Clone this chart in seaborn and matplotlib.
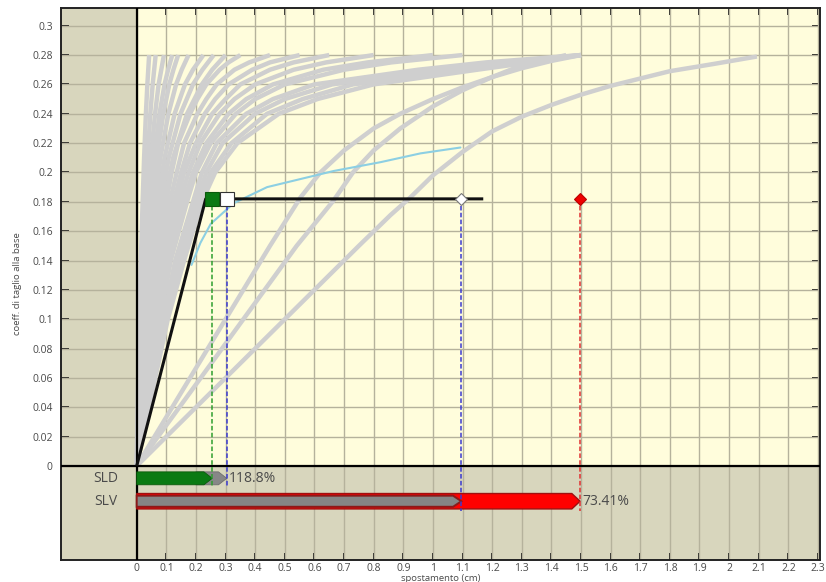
import numpy as np
import pandas as pd
import matplotlib
matplotlib.use("Agg")
import matplotlib.pyplot as plt
from matplotlib.patches import Polygon, Rectangle
import seaborn as sns

# ---------------- data ----------------
# steep capacity curves: x displacement at these base-shear levels
steep_levels = [0, 0.05, 0.1, 0.14, 0.18, 0.21, 0.24, 0.26, 0.27, 0.28]
steep_curves_x = [
    [0, 0.004, 0.009, 0.014, 0.02, 0.025, 0.031, 0.036, 0.039, 0.042],
    [0, 0.006, 0.013, 0.02, 0.029, 0.037, 0.046, 0.054, 0.059, 0.064],
    [0, 0.008, 0.017, 0.026, 0.038, 0.048, 0.062, 0.074, 0.083, 0.092],
    [0, 0.01, 0.021, 0.032, 0.046, 0.059, 0.077, 0.094, 0.106, 0.12],
    [0, 0.011, 0.024, 0.037, 0.053, 0.068, 0.09, 0.11, 0.124, 0.14],
    [0, 0.013, 0.028, 0.043, 0.062, 0.08, 0.107, 0.133, 0.152, 0.175],
    [0, 0.015, 0.032, 0.05, 0.072, 0.094, 0.128, 0.163, 0.19, 0.225],
    [0, 0.017, 0.036, 0.056, 0.082, 0.108, 0.148, 0.19, 0.222, 0.26],
    [0, 0.019, 0.04, 0.063, 0.092, 0.123, 0.17, 0.22, 0.255, 0.3],
]
# bending capacity curves: x displacement at these base-shear levels
bend_levels = [0, 0.05, 0.1, 0.14, 0.18, 0.2, 0.22, 0.24, 0.25, 0.26, 0.27, 0.275, 0.28]
bend_curves_x = [
    [0, 0.022, 0.046, 0.07, 0.1, 0.118, 0.14, 0.18, 0.205, 0.235, 0.28, 0.31, 0.35],
    [0, 0.025, 0.052, 0.078, 0.112, 0.135, 0.16, 0.205, 0.235, 0.27, 0.33, 0.38, 0.45],
    [0, 0.028, 0.058, 0.086, 0.125, 0.15, 0.18, 0.23, 0.265, 0.31, 0.39, 0.45, 0.55],
    [0, 0.03, 0.062, 0.093, 0.135, 0.16, 0.2, 0.255, 0.3, 0.35, 0.45, 0.53, 0.65],
    [0, 0.033, 0.068, 0.1, 0.146, 0.175, 0.215, 0.28, 0.33, 0.4, 0.53, 0.64, 0.8],
    [0, 0.036, 0.074, 0.108, 0.158, 0.19, 0.235, 0.31, 0.37, 0.46, 0.63, 0.78, 1.0],
    [0, 0.04, 0.08, 0.115, 0.17, 0.2, 0.25, 0.335, 0.4, 0.5, 0.7, 0.86, 1.1],
    [0, 0.045, 0.09, 0.13, 0.19, 0.22, 0.27, 0.37, 0.46, 0.6, 0.95, 1.18, 1.5],
    [0, 0.048, 0.095, 0.14, 0.2, 0.235, 0.29, 0.4, 0.5, 0.66, 1.02, 1.24, 1.5],
    [0, 0.05, 0.1, 0.15, 0.21, 0.25, 0.32, 0.44, 0.56, 0.73, 1.1, 1.3, 1.5],
    [0, 0.052, 0.105, 0.16, 0.22, 0.265, 0.34, 0.48, 0.61, 0.8, 1.15, 1.33, 1.5],
]
soft_curve1_x = [0, 0.3, 0.45, 0.553, 0.62, 0.7, 0.8, 0.89, 1.0, 1.1, 1.2, 1.3, 1.4, 1.5]
soft_curve1_y = [0, 0.1, 0.15, 0.183, 0.2, 0.215, 0.23, 0.24, 0.25, 0.258, 0.265, 0.271, 0.276, 0.28]
soft_curve2_x = [0, 0.36, 0.54, 0.665, 0.73, 0.8, 0.89, 1.0, 1.1, 1.2, 1.3, 1.45]
soft_curve2_y = [0, 0.1, 0.15, 0.181, 0.2, 0.215, 0.23, 0.245, 0.256, 0.265, 0.273, 0.28]
soft_curve3_x = [0, 0.5, 0.75, 0.857, 0.924, 1.0, 1.1, 1.2, 1.3, 1.4, 1.5, 1.6, 1.7,
                 1.8, 1.95, 2.094]
soft_curve3_y = [0, 0.1, 0.15, 0.171, 0.183, 0.198, 0.214, 0.228, 0.238, 0.246, 0.253,
                 0.259, 0.264, 0.269, 0.274, 0.279]

blue_x = [0.185, 0.215, 0.25, 0.327, 0.44, 0.665, 0.823, 0.958, 1.093]
blue_y = [0.137, 0.152, 0.165, 0.179, 0.190, 0.201, 0.207, 0.213, 0.217]

bilinear_x = [0, 0.233, 1.17]
bilinear_y = [0, 0.182, 0.182]
level_y = 0.182
sld_capacity = 0.255
sld_demand = 0.304
slv_demand = 1.096
slv_capacity = 1.497
sld_label, slv_label = "SLD", "SLV"
sld_pct, slv_pct = "118.8%", "73.41%"

x_ticks = [round(0.1 * i, 1) for i in range(24)]
x_labels = ["0", "0.1", "0.2", "0.3", "0.4", "0.5", "0.6", "0.7", "0.8", "0.9", "1",
            "1.1", "1.2", "1.3", "1.4", "1.5", "1.6", "1.7", "1.8", "1.9", "2",
            "2.1", "2.2", "2.3"]
y_ticks = [round(0.02 * i, 2) for i in range(16)]
y_labels = ["0", "0.02", "0.04", "0.06", "0.08", "0.1", "0.12", "0.14", "0.16",
            "0.18", "0.2", "0.22", "0.24", "0.26", "0.28", "0.3"]

# ---------------- style ----------------
sns.set_theme(style="white")
plt.rcParams['font.family'] = ['Open Sans', 'DejaVu Sans']

TAN = "#D8D6BD"
YEL = "#FFFDDC"
GRID = "#B5B29C"
GREY = "#CFCFCF"
TXT = "#4A4A4A"

fig = plt.figure(figsize=(8.26, 5.82), dpi=100)
L, R, T, B = 61, 820, 8, 560
ax = fig.add_axes([L / 826, 1 - B / 582, (R - L) / 826, (B - T) / 582])

px_per_x = 296.2
px_per_y = 1467.7
x0px, y0px = 136.7, 466.0
ax.set_xlim((L - x0px) / px_per_x, (R - x0px) / px_per_x)
ax.set_ylim(-(B - y0px) / px_per_y, (y0px - T) / px_per_y)

ax.set_facecolor(TAN)
ax.add_patch(Rectangle((0, 0), 3, 1, facecolor=YEL, edgecolor="none", zorder=0))

# grid
for xv in x_ticks:
    ax.axvline(xv, color=GRID, lw=1.0, zorder=0.6)
for yv in y_ticks:
    ax.axhline(yv, color=GRID, lw=1.0, zorder=0.6)

# curves via seaborn
rows = []
cid = 0
for xs in steep_curves_x:
    for xv, yv in zip(xs, steep_levels):
        rows.append((cid, xv, yv))
    cid += 1
for xs in bend_curves_x:
    for xv, yv in zip(xs, bend_levels):
        rows.append((cid, xv, yv))
    cid += 1
for xs, ys in [(soft_curve1_x, soft_curve1_y), (soft_curve2_x, soft_curve2_y),
               (soft_curve3_x, soft_curve3_y)]:
    for xv, yv in zip(xs, ys):
        rows.append((cid, xv, yv))
    cid += 1
df = pd.DataFrame(rows, columns=["curve", "x", "y"])
sns.lineplot(data=df, x="x", y="y", units="curve", estimator=None, sort=False,
             color=GREY, linewidth=3.2, ax=ax, legend=False, zorder=2,
             solid_joinstyle="round", solid_capstyle="butt")

ax.plot(blue_x, blue_y, color="#8CCFE3", lw=1.5, zorder=3)

# axes through origin
ax.axvline(0, color="black", lw=1.6, zorder=3.2)
ax.axhline(0, color="black", lw=1.6, zorder=3.2)

# dashed verticals
sld_bot = -0.0136
slv_bot = -0.031
dash = (0, (3, 1.5))
ax.plot([sld_capacity, sld_capacity], [level_y, sld_bot], color="#2E9E2E", lw=1.1,
        ls=dash, zorder=5)
ax.plot([sld_demand, sld_demand], [level_y, sld_bot], color="#3A3ACF", lw=1.1,
        ls=dash, zorder=5)
ax.plot([slv_demand, slv_demand], [level_y, slv_bot], color="#3A3ACF", lw=1.1,
        ls=dash, zorder=5)
ax.plot([slv_capacity, slv_capacity], [level_y, slv_bot], color="#E03030", lw=1.1,
        ls=dash, zorder=5)

# bilinear
ax.plot(bilinear_x, bilinear_y, color="#111111", lw=2.2, zorder=4,
        solid_capstyle="butt")

ax.plot([sld_capacity], [level_y], marker="s", ms=10, mfc="#0A7A12", mec="#0A5A0A",
        mew=0.8, zorder=6)
ax.plot([sld_demand], [level_y], marker="s", ms=10, mfc="white", mec="#333333",
        mew=0.8, zorder=6)
ax.plot([slv_demand], [level_y], marker="D", ms=6.5, mfc="white", mec="#777777",
        mew=0.8, zorder=6)
ax.plot([slv_capacity], [level_y], marker="D", ms=6.5, mfc="#EE0000", mec="#BB0000",
        mew=0.8, zorder=6)


def arrow(x0, x1, yc, h, tip):
    return [(x0, yc - h / 2), (x1 - tip, yc - h / 2), (x1, yc),
            (x1 - tip, yc + h / 2), (x0, yc + h / 2)]


tip = 0.028
sld_y, sld_h = -0.0084, 0.0088
slv_y, slv_h = -0.0240, 0.0105
ax.add_patch(Polygon(arrow(0.2, sld_demand, sld_y, sld_h, tip), closed=True,
                     facecolor="#878787", edgecolor="#6E6E6E", lw=0.6, zorder=4.5))
ax.add_patch(Polygon(arrow(0, sld_capacity, sld_y, sld_h, tip), closed=True,
                     facecolor="#0A7A12", edgecolor="#0A5A0A", lw=0.6, zorder=4.6))
ax.add_patch(Polygon(arrow(0, slv_capacity, slv_y, slv_h, tip), closed=True,
                     facecolor="#FF0000", edgecolor="#A01010", lw=1.0, zorder=4.5))
ax.add_patch(Polygon(arrow(0, slv_demand, slv_y, slv_h * 0.72, tip), closed=True,
                     facecolor="#858585", edgecolor="#8B1A1A", lw=1.4, zorder=4.6))

ax.text(sld_demand + 0.008, sld_y, sld_pct, ha="left", va="center", fontsize=10,
        color=TXT, zorder=7)
ax.text(slv_capacity + 0.008, slv_y, slv_pct, ha="left", va="center", fontsize=10,
        color=TXT, zorder=7)
ax.text(-0.105, sld_y, sld_label, ha="center", va="center", fontsize=10, color=TXT)
ax.text(-0.105, slv_y, slv_label, ha="center", va="center", fontsize=10, color=TXT)

# ticks
ax.set_xticks(x_ticks)
ax.set_xticklabels(x_labels)
ax.set_yticks(y_ticks)
ax.set_yticklabels(y_labels)
ax.tick_params(axis="x", direction="in", length=5, width=1.3, colors="#111111",
               labelcolor=TXT, labelsize=7.5, pad=2, top=True, bottom=True)
ax.tick_params(axis="y", direction="in", length=6, width=1.3, colors="#111111",
               labelcolor=TXT, labelsize=7.5, pad=6, left=True, right=True)

for s in ax.spines.values():
    s.set_color("#222222")
    s.set_linewidth(1.4)
    s.set_visible(True)

ax.set_xlabel("spostamento (cm)", fontsize=6.8, color=TXT)
ax.xaxis.set_label_coords(0.5, -0.025)
ax.set_ylabel("coeff. di taglio alla base", fontsize=6.8, color=TXT)
ax.yaxis.set_label_coords(-0.052, 0.5)

fig.savefig("out.png", dpi=100)
